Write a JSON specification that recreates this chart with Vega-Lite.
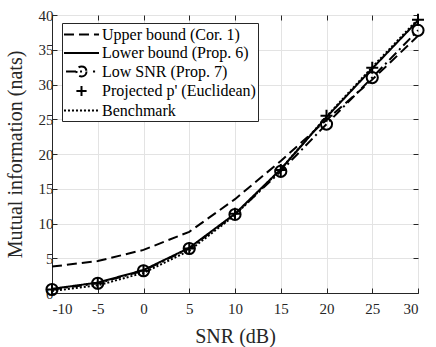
{
  "$schema": "https://vega.github.io/schema/vega-lite/v6.json",
  "width": 366,
  "height": 278,
  "autosize": "none",
  "padding": {"left": 52, "top": 15, "right": 18, "bottom": 54},
  "background": "white",
  "config": {
    "font": "Liberation Serif",
    "view": {"stroke": "#262626", "strokeWidth": 1},
    "axis": {
      "labelFont": "Liberation Serif",
      "labelFontSize": 15,
      "labelColor": "#262626",
      "titleFont": "Liberation Serif",
      "titleFontSize": 20,
      "titleFontWeight": "normal",
      "titleColor": "#262626",
      "domainColor": "#262626",
      "tickColor": "#262626",
      "gridColor": "#e3e3e3",
      "gridOpacity": 1
    },
    "legend": {
      "labelFont": "Liberation Serif",
      "labelFontSize": 16,
      "labelColor": "black"
    }
  },
  "data": {
    "values": [
      {"snr": -10, "mi": 3.8, "series": "Upper bound (Cor. 1)"},
      {"snr": -5, "mi": 4.6, "series": "Upper bound (Cor. 1)"},
      {"snr": 0, "mi": 6.2, "series": "Upper bound (Cor. 1)"},
      {"snr": 5, "mi": 8.8, "series": "Upper bound (Cor. 1)"},
      {"snr": 10, "mi": 13.5, "series": "Upper bound (Cor. 1)"},
      {"snr": 15, "mi": 19.0, "series": "Upper bound (Cor. 1)"},
      {"snr": 20, "mi": 24.9, "series": "Upper bound (Cor. 1)"},
      {"snr": 25, "mi": 30.7, "series": "Upper bound (Cor. 1)"},
      {"snr": 30, "mi": 37.0, "series": "Upper bound (Cor. 1)"},
      {"snr": -10, "mi": 0.6, "series": "Lower bound (Prop. 6)"},
      {"snr": -5, "mi": 1.5, "series": "Lower bound (Prop. 6)"},
      {"snr": 0, "mi": 3.3, "series": "Lower bound (Prop. 6)"},
      {"snr": 5, "mi": 6.5, "series": "Lower bound (Prop. 6)"},
      {"snr": 10, "mi": 11.4, "series": "Lower bound (Prop. 6)"},
      {"snr": 15, "mi": 17.8, "series": "Lower bound (Prop. 6)"},
      {"snr": 20, "mi": 25.3, "series": "Lower bound (Prop. 6)"},
      {"snr": 25, "mi": 32.3, "series": "Lower bound (Prop. 6)"},
      {"snr": 30, "mi": 39.2, "series": "Lower bound (Prop. 6)"},
      {"snr": -10, "mi": 0.5, "series": "Low SNR (Prop. 7)"},
      {"snr": -5, "mi": 1.4, "series": "Low SNR (Prop. 7)"},
      {"snr": 0, "mi": 3.2, "series": "Low SNR (Prop. 7)"},
      {"snr": 5, "mi": 6.4, "series": "Low SNR (Prop. 7)"},
      {"snr": 10, "mi": 11.3, "series": "Low SNR (Prop. 7)"},
      {"snr": 15, "mi": 17.5, "series": "Low SNR (Prop. 7)"},
      {"snr": 20, "mi": 24.3, "series": "Low SNR (Prop. 7)"},
      {"snr": 25, "mi": 31.0, "series": "Low SNR (Prop. 7)"},
      {"snr": 30, "mi": 37.8, "series": "Low SNR (Prop. 7)"},
      {"snr": -10, "mi": 0.5, "series": "Projected p' (Euclidean)"},
      {"snr": -5, "mi": 1.4, "series": "Projected p' (Euclidean)"},
      {"snr": 0, "mi": 3.2, "series": "Projected p' (Euclidean)"},
      {"snr": 5, "mi": 6.4, "series": "Projected p' (Euclidean)"},
      {"snr": 10, "mi": 11.4, "series": "Projected p' (Euclidean)"},
      {"snr": 15, "mi": 17.7, "series": "Projected p' (Euclidean)"},
      {"snr": 20, "mi": 25.5, "series": "Projected p' (Euclidean)"},
      {"snr": 25, "mi": 32.4, "series": "Projected p' (Euclidean)"},
      {"snr": 30, "mi": 39.3, "series": "Projected p' (Euclidean)"},
      {"snr": -10, "mi": 0.3, "series": "Benchmark"},
      {"snr": -5, "mi": 1.1, "series": "Benchmark"},
      {"snr": 0, "mi": 2.9, "series": "Benchmark"},
      {"snr": 5, "mi": 6.1, "series": "Benchmark"},
      {"snr": 10, "mi": 11.2, "series": "Benchmark"},
      {"snr": 15, "mi": 17.8, "series": "Benchmark"},
      {"snr": 20, "mi": 25.4, "series": "Benchmark"},
      {"snr": 25, "mi": 32.5, "series": "Benchmark"},
      {"snr": 30, "mi": 39.4, "series": "Benchmark"}
    ]
  },
  "resolve": {"axis": {"x": "independent", "y": "independent"}},
  "layer": [
    {
      "transform": [{"filter": "datum.series !== \"Projected p' (Euclidean)\""}],
      "mark": {"type": "line", "color": "black", "strokeWidth": 2},
      "encoding": {
        "x": {
          "field": "snr", "type": "quantitative",
          "scale": {"domain": [-10, 30], "nice": false},
          "axis": {
            "orient": "bottom", "title": "SNR (dB)", "values": [-10, -5, 0, 5, 10, 15, 20, 25, 30],
            "labelExpr": "'' + datum.value", "grid": true, "tickSize": -5, "labelPadding": 13,
            "titlePadding": 10
          }
        },
        "y": {
          "field": "mi", "type": "quantitative",
          "scale": {"domain": [0, 40], "nice": false},
          "axis": {
            "orient": "left", "title": "Mutual information (nats)", "values": [0, 5, 10, 15, 20, 25, 30, 35, 40],
            "labelExpr": "'' + datum.value", "grid": true, "tickSize": -5, "labelPadding": 4,
            "titlePadding": 13
          }
        },
        "strokeDash": {
          "field": "series", "type": "nominal",
          "scale": {
            "domain": ["Upper bound (Cor. 1)", "Lower bound (Prop. 6)", "Low SNR (Prop. 7)", "Projected p' (Euclidean)", "Benchmark"],
            "range": [[10, 5], [1, 0], [10, 4, 2, 4], [1, 0], [2, 2]]
          },
          "legend": {
            "title": null,
            "orient": "none",
            "legendX": 10,
            "legendY": 8,
            "fillColor": "white",
            "strokeColor": "#262626",
            "padding": 2,
            "symbolSize": 289,
            "symbolOffset": 8,
            "symbolStrokeWidth": 2,
            "symbolStrokeColor": "black",
            "symbolFillColor": "transparent",
            "labelOffset": 11,
            "rowPadding": 0.5,
            "labelLimit": 300,
            "encode": {
              "symbols": {
                "update": {
                  "shape": {"signal": "datum.index === 2 ? 'M-1.82,0H0.3M0.59,0A0.59,0.59,0,1,1,-0.59,0A0.59,0.59,0,1,1,0.59,0M1.35,0H1.6' : datum.index === 3 ? 'M-0.6,0H0.6M0,-0.6V0.6' : 'M-2.06,0H2.06'"},
                  "strokeDash": {"signal": "datum.index === 2 || datum.index === 3 ? [1, 0] : scale('strokeDash', datum.value)"}
                }
              }
            }
          }
        }
      }
    },
    {
      "transform": [{"filter": "datum.series === 'Low SNR (Prop. 7)'"}],
      "mark": {"type": "point", "shape": "circle", "size": 125, "filled": false, "stroke": "black", "strokeWidth": 2, "opacity": 1},
      "encoding": {
        "x": {"field": "snr", "type": "quantitative", "axis": {"orient": "top", "labels": false, "grid": false, "domain": false, "tickSize": -5, "title": null, "values": [-10, -5, 0, 5, 10, 15, 20, 25, 30]}},
        "y": {"field": "mi", "type": "quantitative", "axis": {"orient": "right", "labels": false, "grid": false, "domain": false, "tickSize": -5, "title": null, "values": [0, 5, 10, 15, 20, 25, 30, 35, 40]}}
      }
    },
    {
      "transform": [{"filter": "datum.series === \"Projected p' (Euclidean)\""}],
      "mark": {"type": "point", "shape": "M-1,0H1M0,-1V1", "size": 144, "filled": false, "stroke": "black", "strokeWidth": 2, "opacity": 1},
      "encoding": {
        "x": {"field": "snr", "type": "quantitative", "axis": null},
        "y": {"field": "mi", "type": "quantitative", "axis": null}
      }
    }
  ]
}
